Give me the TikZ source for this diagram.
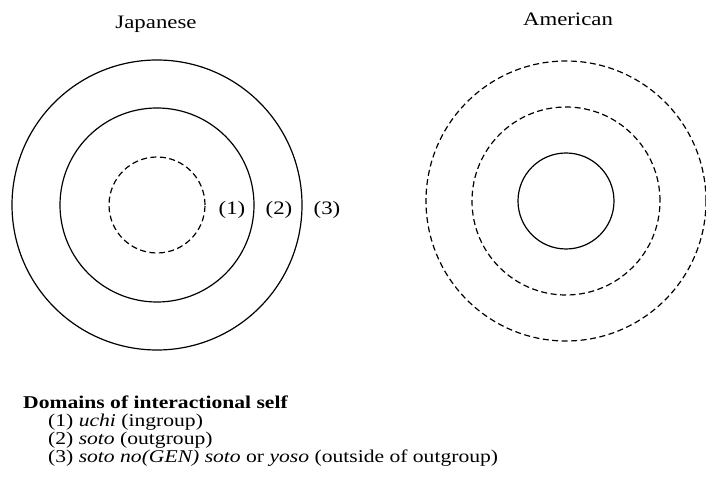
\documentclass[tikz,border=0pt]{standalone}
\usepackage{fontspec}
\setmainfont[FakeStretch=1.2]{Liberation Serif}
\usepackage{tikz}
\usetikzlibrary{positioning}

\begin{document}
\begin{tikzpicture}[x=1pt, y=1pt,
    ring/.style={line width=1.2pt},
    dashring/.style={line width=1.2pt, dash pattern=on 6pt off 3.5pt},
    head/.style={font=\fontsize{19}{22}\selectfont},
    lbl/.style={font=\fontsize{19}{22}\selectfont},
    legend/.style={anchor=north west, inner sep=0pt, align=left, font=\fontsize{18}{17.8}\selectfont}]
    \useasboundingbox (0, 0) rectangle (706, 495);
    % Japanese
    \coordinate (jc) at (157, 290);
    \draw[ring] (jc) circle (145);
    \draw[ring] (jc) circle (97);
    \draw[dashring] (jc) circle (48);
    \node[head] (jhead) at (156, 471) {Japanese};
    \node[lbl] (l1) at (232, 285) {(1)};
    \node[lbl] (l2) at (279, 285) {(2)};
    \node[lbl] (l3) at (327, 285) {(3)};
    % American
    \coordinate (ac) at (566, 294);
    \draw[dashring] (ac) circle (140);
    \draw[dashring] (ac) circle (94);
    \draw[ring] (ac) circle (48);
    \node[head] (ahead) at (568, 476) {American};
    % legend
    \node[legend] (dom) at (23, 99) {\textbf{Domains of interactional self}\\
        \hspace*{25pt}(1) \textit{uchi} (ingroup)\\
        \hspace*{25pt}(2) \textit{soto} (outgroup)\\
        \hspace*{25pt}(3) \textit{soto no(GEN) soto} or \textit{yoso} (outside of outgroup)};
\end{tikzpicture}
\end{document}
